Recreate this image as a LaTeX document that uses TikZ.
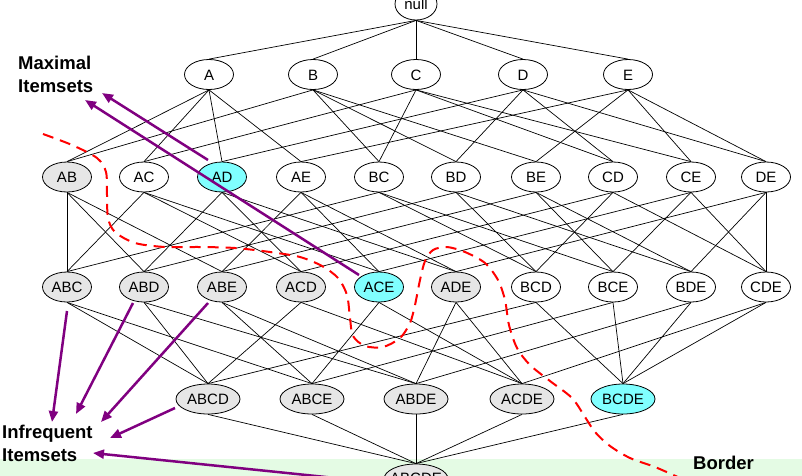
\documentclass[tikz,border=0pt]{standalone}
\usepackage{fontspec}
\setmainfont{Liberation Sans}
\usetikzlibrary{shapes.geometric,arrows.meta,calc}
\definecolor{setgray}{HTML}{E6E6E6}
\definecolor{setcyan}{HTML}{80FFFF}
\definecolor{bandgreen}{HTML}{E4FBE4}
\definecolor{arrpurple}{HTML}{800080}
\begin{document}
\begin{tikzpicture}[x=1pt,y=-1pt,
  itemset/.style={ellipse, draw=black, line width=0.8pt, fill=white,
    minimum width=49pt, minimum height=30pt, inner sep=0pt,
    font=\fontsize{15}{18}\selectfont, text height=11pt, text depth=0pt},
  wideset/.style={itemset, minimum width=64pt},
  infreq/.style={fill=setgray},
  maxset/.style={fill=setcyan},
  latedge/.style={line width=0.7pt, draw=black},
  purplearrow/.style={draw=arrpurple, line width=2.5pt, -{Triangle[length=11pt,width=9pt]}},
  borderline/.style={draw=red, line width=2pt, dash pattern=on 11pt off 7pt},
  lbl/.style={font=\fontsize{18.5}{22.5}\selectfont\bfseries, align=left, inner sep=0pt, anchor=north west}
]
\useasboundingbox (0,0) rectangle (802,475);
\clip (0,0) rectangle (802,475);
% green band
\fill[bandgreen] (0,459) rectangle (802,480);

% level 0
\node[itemset, minimum width=42pt, minimum height=32pt] (null) at (416,4) {null};
% level 1
\node[itemset] (A) at (209,74.5) {A};
\node[itemset] (B) at (313,74.5) {B};
\node[itemset] (C) at (416,74.5) {C};
\node[itemset] (D) at (523,74.5) {D};
\node[itemset] (E) at (628,74.5) {E};
% level 2
\node[itemset, infreq] (AB) at (67,177) {AB};
\node[itemset] (AC) at (144,177) {AC};
\node[itemset, maxset] (AD) at (222,177) {AD};
\node[itemset] (AE) at (301,177) {AE};
\node[itemset] (BC) at (379,177) {BC};
\node[itemset] (BD) at (456,177) {BD};
\node[itemset] (BE) at (536,177) {BE};
\node[itemset] (CD) at (613,177) {CD};
\node[itemset] (CE) at (691,177) {CE};
\node[itemset] (DE) at (766,177) {DE};
% level 3
\node[itemset, infreq] (ABC) at (67,287) {ABC};
\node[itemset, infreq] (ABD) at (144,287) {ABD};
\node[itemset, infreq] (ABE) at (222,287) {ABE};
\node[itemset, infreq] (ACD) at (301,287) {ACD};
\node[itemset, maxset] (ACE) at (379,287) {ACE};
\node[itemset, infreq] (ADE) at (456,287) {ADE};
\node[itemset] (BCD) at (536,287) {BCD};
\node[itemset] (BCE) at (613,287) {BCE};
\node[itemset] (BDE) at (691,287) {BDE};
\node[itemset] (CDE) at (766,287) {CDE};
% level 4
\node[wideset, infreq] (ABCD) at (208,399) {ABCD};
\node[wideset, infreq] (ABCE) at (312,399) {ABCE};
\node[wideset, infreq] (ABDE) at (416,399) {ABDE};
\node[wideset, infreq] (ACDE) at (522,399) {ACDE};
\node[wideset, maxset] (BCDE) at (623,399) {BCDE};
% level 5
\node[wideset, infreq] (ABCDE) at (416,479) {\raisebox{1pt}[0pt][0pt]{\makebox[0pt]{ABCDE}}};

% lattice edges
\foreach \u/\v in {null/A,null/B,null/C,null/D,null/E,
  A/AB,A/AC,A/AD,A/AE, B/AB,B/BC,B/BD,B/BE, C/AC,C/BC,C/CD,C/CE,
  D/AD,D/BD,D/CD,D/DE, E/AE,E/BE,E/CE,E/DE,
  AB/ABC,AB/ABD,AB/ABE, AC/ABC,AC/ACD,AC/ACE, AD/ABD,AD/ACD,AD/ADE,
  AE/ABE,AE/ACE,AE/ADE, BC/ABC,BC/BCD,BC/BCE, BD/ABD,BD/BCD,BD/BDE,
  BE/ABE,BE/BCE,BE/BDE, CD/ACD,CD/BCD,CD/CDE, CE/ACE,CE/BCE,CE/CDE,
  DE/ADE,DE/BDE,DE/CDE,
  ABC/ABCD,ABC/ABCE, ABD/ABCD,ABD/ABDE, ABE/ABCE,ABE/ABDE,
  ACD/ABCD,ACD/ACDE, ACE/ABCE,ACE/ACDE, ADE/ABDE,ADE/ACDE,
  BCD/ABCD,BCD/BCDE, BCE/ABCE,BCE/BCDE, BDE/ABDE,BDE/BCDE,
  CDE/ACDE,CDE/BCDE,
  ABCD/ABCDE,ABCE/ABCDE,ABDE/ABCDE,ACDE/ABCDE,BCDE/ABCDE}
  \draw[latedge] (\u.south) -- (\v.north);

% border (red dashed)
\draw[borderline] plot[smooth, tension=0.5] coordinates {
  (43,134) (72,145) (97,158) (106,172) (107,195) (108,218) (115,232)
  (135,243) (165,247) (200,247) (235,248) (270,252) (300,257) (322,266)
  (338,278) (347,295) (350,318) (353,336) (365,346) (383,347) (400,338)
  (410,323) (415,305) (420,280) (425,261) (433,250) (447,247) (465,252)
  (485,263) (498,280) (505,300) (509,325) (517,348) (530,365) (550,381)
  (572,398) (585,417) (595,432) (610,446) (630,458) (655,467) (680,478)};

% labels
\node[lbl] (maxlbl) at (18,56) {Maximal\\Itemsets};
\node[lbl] (inflbl) at (2,425) {Infrequent\\Itemsets};
\node[lbl] (borderlbl) at (693,456) {Border};

% purple arrows
\coordinate (m1s) at ($(AD)+(-14,-17)$);
\coordinate (m1e) at (102,93);
\coordinate (m2s) at ($(ACE)+(-20,-12)$);
\coordinate (m2e) at (85,100);
\coordinate (i1s) at ($(ABC)+(0,24)$);
\coordinate (i1e) at (52,422);
\coordinate (i2s) at ($(ABD)+(-11,16)$);
\coordinate (i2e) at (76,414);
\coordinate (i3s) at ($(ABE)+(-14,16)$);
\coordinate (i3e) at (101,422);
\coordinate (i4s) at ($(ABCD)+(-33,9)$);
\coordinate (i4e) at (110,438);
\coordinate (i5s) at ($(ABCDE)+(-32,4)$);
\coordinate (i5e) at (93,453);
\foreach \s/\e in {m1s/m1e,m2s/m2e,i1s/i1e,i2s/i2e,i3s/i3e,i4s/i4e,i5s/i5e}
  \draw[purplearrow] (\s) -- (\e);
\end{tikzpicture}
\end{document}
